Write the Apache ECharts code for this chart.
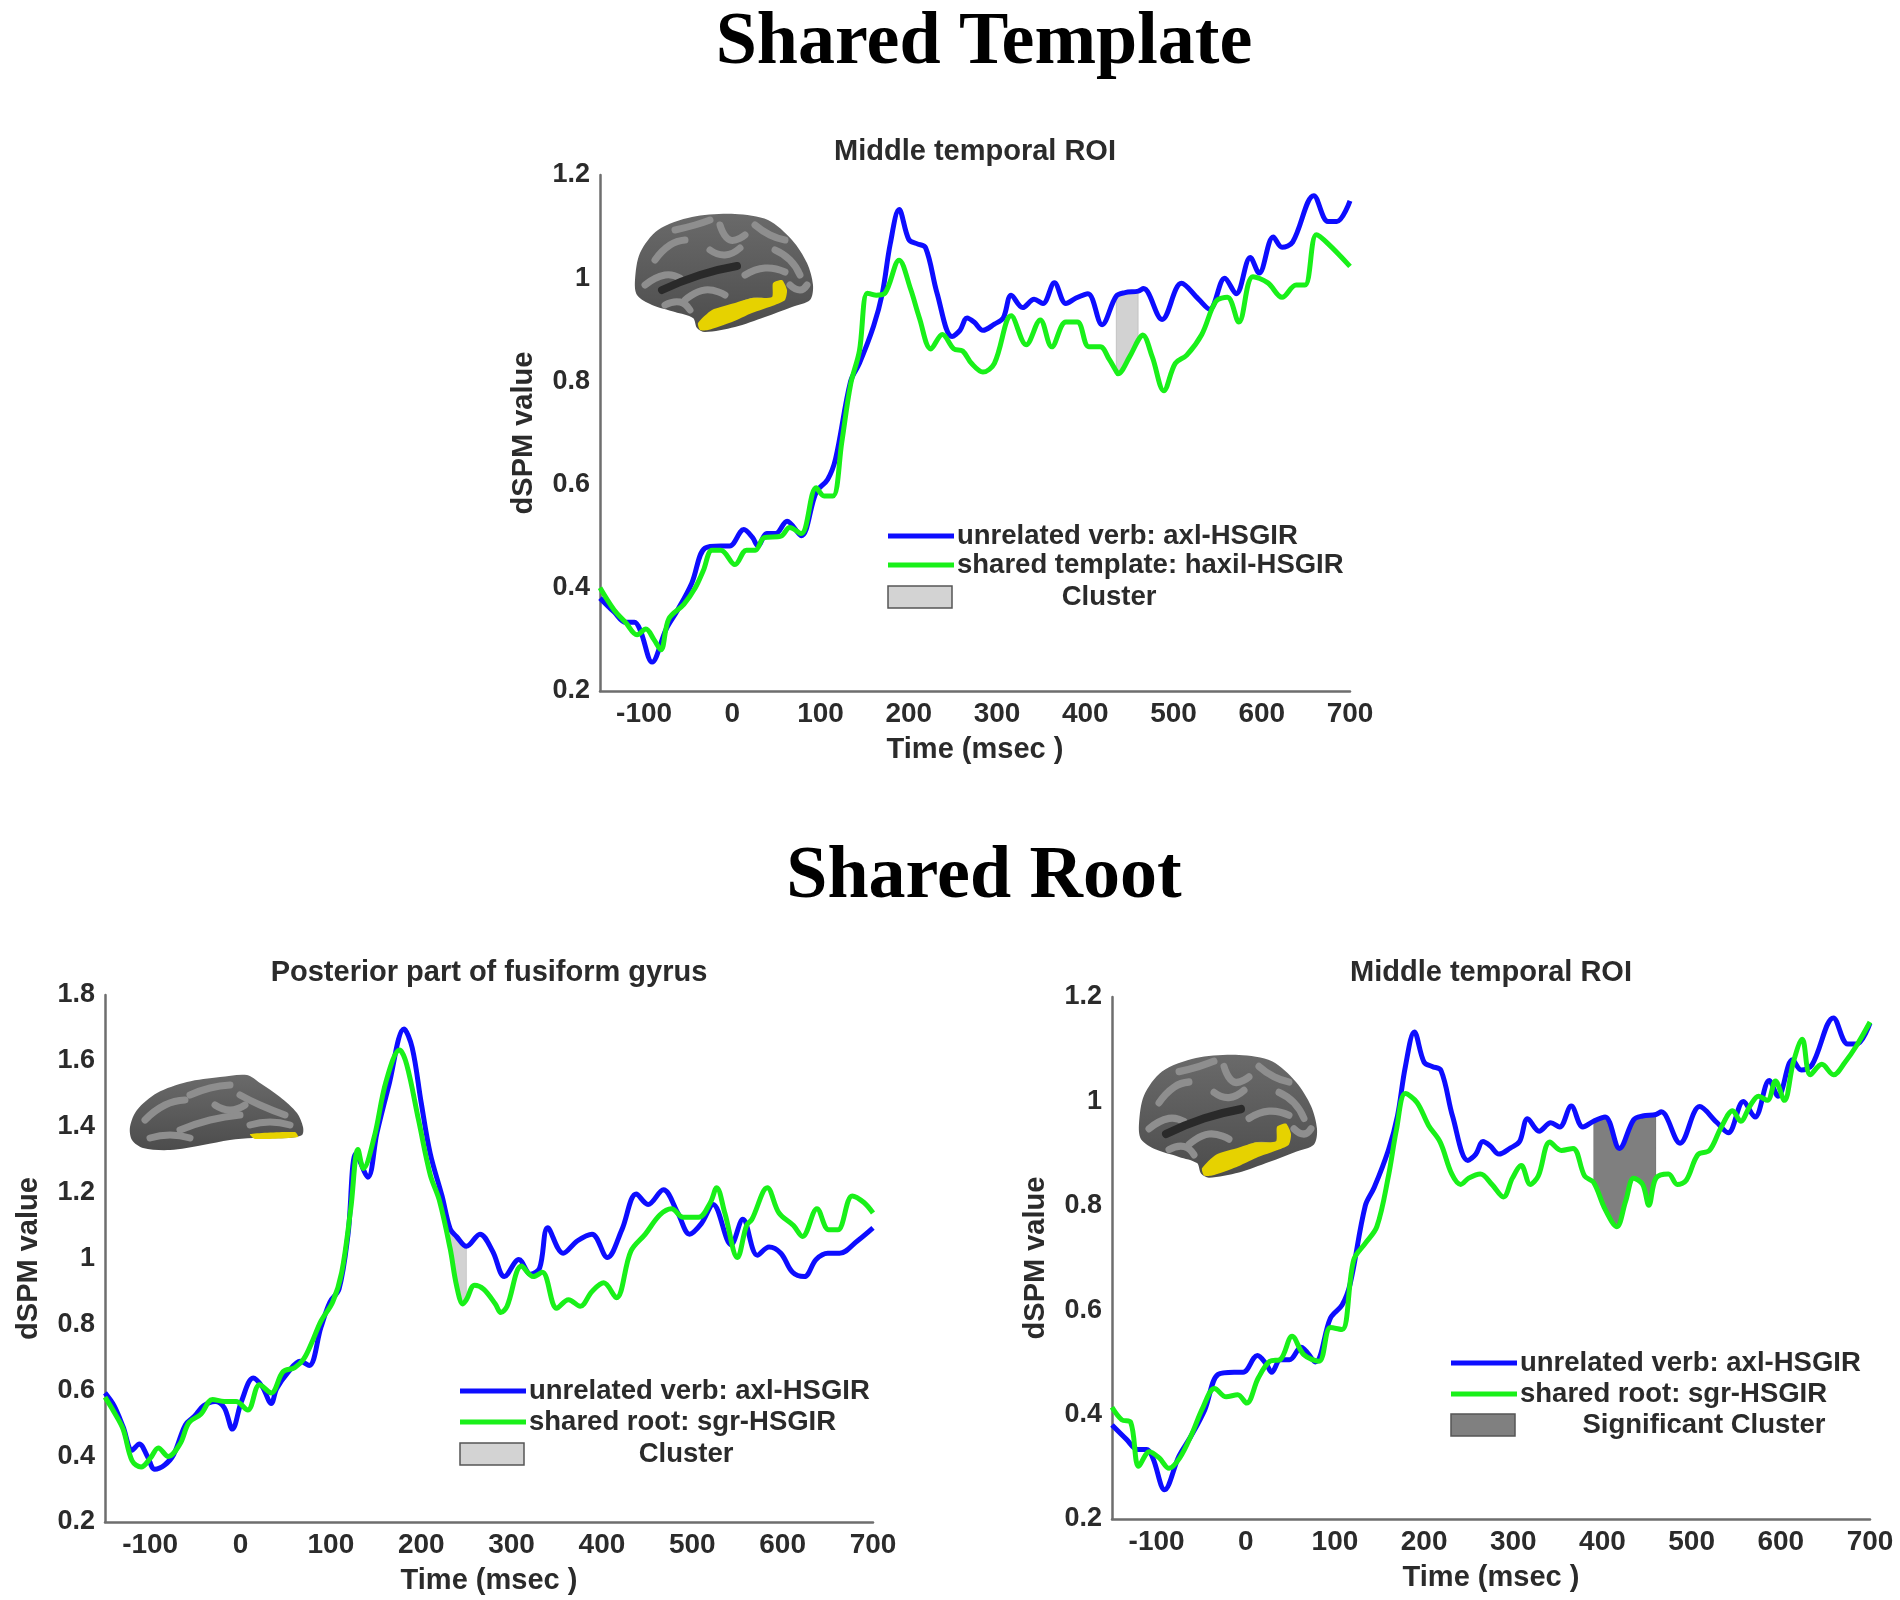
<!DOCTYPE html>
<html>
<head>
<meta charset="utf-8">
<script src="https://cdn.jsdelivr.net/npm/echarts@6/dist/echarts.min.js"></script>
<style>
html, body { margin: 0; padding: 0; background: #fff; }
#main { width: 1900px; height: 1600px; }
</style>
</head>
<body>
<div id="main"></div>
<script>
// tick labels
var xTicks = [-100, 0, 100, 200, 300, 400, 500, 600, 700];
var yTicksMid = [0.2, 0.4, 0.6, 0.8, 1, 1.2];
var yTicksFus = [0.2, 0.4, 0.6, 0.8, 1, 1.2, 1.4, 1.6, 1.8];

// [time (ms), dSPM value]
// unrelated verb in middle temporal ROI (same curve in both middle temporal panels)
var blueMid = [[-150,0.38],[-134,0.353],[-121,0.333],[-111,0.333],[-104,0.316],[-91,0.256],[-75,0.32],[-62,0.357],
  [-46,0.409],[-31,0.477],[-13,0.481],[-3,0.481],[13,0.513],[23,0.497],[29,0.481],[39,0.505],[49,0.505],[62,0.529],
  [78,0.501],[95,0.585],[108,0.61],[117,0.65],[134,0.80],[144,0.835],[160,0.907],[170,0.971],[179,1.067],[189,1.133],
  [200,1.075],[209,1.067],[219,1.059],[232,0.971],[249,0.887],[258,0.899],[266,0.923],[274,0.915],[284,0.899],
  [297,0.911],[307,0.923],[316,0.967],[329,0.943],[342,0.959],[352,0.951],[365,0.991],[378,0.951],[390,0.962],
  [403,0.97],[419,0.91],[435,0.965],[445,0.972],[460,0.975],[466,0.98],[487,0.92],[509,0.99],[528,0.96],[541,0.94],
  [558,1.00],[571,0.97],[587,1.04],[597,1.01],[613,1.08],[623,1.06],[635,1.07],[659,1.16],[675,1.11],[685,1.11],[700,1.15]];
// shared template: haxil-HSGIR
var greenTemplate = [[-150,0.40],[-134,0.357],[-121,0.333],[-108,0.309],[-98,0.32],[-89,0.30],[-81,0.28],[-72,0.34],
  [-55,0.368],[-42,0.40],[-33,0.433],[-23,0.473],[-13,0.473],[3,0.445],[16,0.473],[26,0.473],[36,0.497],[55,0.50],
  [65,0.517],[78,0.505],[95,0.594],[104,0.578],[114,0.578],[124,0.682],[134,0.794],[144,0.859],[153,0.971],[163,0.967],
  [173,0.971],[189,1.035],[202,0.979],[212,0.923],[225,0.863],[238,0.891],[251,0.863],[261,0.859],[271,0.835],
  [284,0.818],[297,0.835],[316,0.927],[333,0.871],[349,0.919],[362,0.867],[378,0.915],[391,0.915],[404,0.867],
  [417,0.867],[427,0.843],[435,0.82],[437,0.815],[450,0.847],[460,0.88],[465,0.89],[476,0.847],[489,0.782],
  [502,0.835],[515,0.851],[532,0.891],[548,0.955],[561,0.963],[574,0.915],[590,1.003],[607,0.991],[623,0.963],
  [639,0.987],[649,0.987],[662,1.084],[675,1.067],[700,1.023]];
// unrelated verb in posterior fusiform gyrus
var blueFus = [[-150,0.592],[-140,0.553],[-130,0.489],[-120,0.418],[-112,0.437],[-103,0.399],[-95,0.36],[-84,0.373],
  [-74,0.405],[-61,0.495],[-51,0.521],[-41,0.553],[-28,0.566],[-18,0.547],[-9,0.482],[1,0.566],[14,0.637],[24,0.611],
  [34,0.56],[40,0.605],[53,0.656],[66,0.688],[76,0.675],[89,0.791],[99,0.868],[109,0.907],[119,1.074],[128,1.318],
  [141,1.247],[151,1.382],[164,1.524],[181,1.697],[190,1.64],[200,1.472],[210,1.318],[223,1.19],[232,1.09],
  [239,1.067],[250,1.037],[265,1.074],[279,1.022],[292,0.945],[308,0.997],[321,0.952],[331,0.971],[340,1.093],
  [357,1.016],[373,1.054],[389,1.074],[406,1.003],[422,1.087],[438,1.196],[451,1.164],[468,1.209],[484,1.138],
  [497,1.074],[510,1.106],[523,1.164],[543,1.042],[556,1.119],[572,1.01],[585,1.035],[598,1.016],[611,0.958],
  [624,0.945],[637,0.997],[650,1.016],[663,1.016],[683,1.054],[700,1.093]];
// shared root in posterior fusiform gyrus
var greenRootFus = [[-150,0.579],[-140,0.534],[-130,0.482],[-120,0.386],[-110,0.367],[-100,0.393],[-91,0.425],
  [-80,0.399],[-67,0.437],[-57,0.502],[-44,0.527],[-31,0.572],[-18,0.566],[-5,0.566],[8,0.54],[21,0.617],[34,0.592],
  [47,0.656],[60,0.669],[70,0.695],[80,0.752],[89,0.81],[102,0.868],[112,0.958],[122,1.151],[130,1.331],[136,1.273],
  [148,1.369],[161,1.537],[176,1.633],[184,1.588],[197,1.421],[210,1.254],[220,1.177],[232,1.03],[239,0.919],
  [246,0.862],[250,0.875],[259,0.919],[269,0.907],[282,0.862],[288,0.836],[295,0.855],[311,0.977],[324,0.945],
  [334,0.958],[350,0.849],[363,0.875],[376,0.855],[389,0.90],[402,0.926],[416,0.881],[432,1.022],[448,1.074],
  [464,1.132],[477,1.151],[490,1.125],[507,1.125],[520,1.17],[527,1.215],[536,1.138],[550,1.003],[560,1.10],
  [566,1.119],[583,1.215],[596,1.138],[612,1.10],[622,1.067],[638,1.151],[651,1.087],[661,1.087],[677,1.19],
  [690,1.17],[700,1.138]];
// shared root in middle temporal ROI
var greenRootMid = [[-150,0.414],[-139,0.39],[-129,0.385],[-120,0.301],[-108,0.329],[-97,0.317],[-86,0.297],
  [-74,0.317],[-61,0.361],[-48,0.414],[-35,0.45],[-22,0.434],[-9,0.438],[1,0.422],[14,0.47],[27,0.502],[39,0.506],
  [52,0.55],[65,0.515],[82,0.502],[95,0.567],[108,0.563],[121,0.696],[134,0.728],[147,0.76],[160,0.857],[169,0.946],
  [179,1.015],[192,0.998],[205,0.954],[218,0.922],[231,0.861],[241,0.841],[250,0.853],[263,0.861],[276,0.841],
  [289,0.817],[299,0.853],[309,0.877],[319,0.841],[328,0.857],[341,0.922],[354,0.906],[367,0.91],[380,0.857],
  [390,0.845],[403,0.793],[416,0.76],[426,0.809],[435,0.853],[445,0.841],[452,0.801],[460,0.853],[474,0.861],
  [484,0.841],[494,0.849],[507,0.898],[520,0.906],[533,0.95],[546,0.982],[555,0.962],[565,0.99],[575,1.01],
  [585,1.002],[594,1.039],[604,1.002],[614,1.075],[624,1.119],[633,1.051],[646,1.071],[659,1.051],[672,1.075],
  [685,1.107],[700,1.152]];

// cluster time windows (ms)
var clusterTemplate = [435, 460];
var clusterFus = [232, 250];
var clusterRootMid = [390, 460];

var BLUE = '#0d0dff';
var GREEN = '#19f019';
var TXT = '#2b2b2b';
var SANS = 'Liberation Sans';

function xAxisFor(i) {
    return {
        type: 'value', gridIndex: i, min: -150, max: 700,
        axisLine: { show: true, onZero: false, lineStyle: { color: '#6e6e6e', width: 2.5 } },
        axisTick: { show: false },
        splitLine: { show: false },
        axisLabel: { customValues: xTicks, margin: 9, fontSize: 28, fontWeight: 'bold', color: TXT, fontFamily: SANS },
        name: 'Time (msec )', nameLocation: 'middle', nameGap: 44,
        nameTextStyle: { fontSize: 29, fontWeight: 'bold', color: TXT, fontFamily: SANS }
    };
}
function yAxisFor(i, max, ticks) {
    return {
        type: 'value', gridIndex: i, min: 0.2, max: max,
        axisLine: { show: true, onZero: false, lineStyle: { color: '#6e6e6e', width: 2.5 } },
        axisTick: { show: false },
        splitLine: { show: false },
        axisLabel: {
            customValues: ticks, margin: 10, fontSize: 27, fontWeight: 'bold', color: TXT, fontFamily: SANS,
            formatter: function (v) { return String(Math.round(v * 10) / 10); }
        },
        name: 'dSPM value', nameLocation: 'middle', nameGap: 62,
        nameTextStyle: { fontSize: 29, fontWeight: 'bold', color: TXT, fontFamily: SANS }
    };
}
function lineSeries(i, data, color) {
    return {
        type: 'line', xAxisIndex: i, yAxisIndex: i, data: data,
        showSymbol: false, smooth: 0.35, z: 3,
        lineStyle: { color: color, width: 5 }
    };
}
// fill between the two curves inside the cluster window
function clusterSeries(i, upper, lower, range, fill) {
    return {
        type: 'custom', xAxisIndex: i, yAxisIndex: i, z: 1, silent: true,
        data: [[range[0], upper[0][1]]],
        renderItem: function (params, api) {
            var pts = [];
            upper.forEach(function (p) { if (p[0] >= range[0] && p[0] <= range[1]) pts.push(api.coord(p)); });
            lower.slice().reverse().forEach(function (p) { if (p[0] >= range[0] && p[0] <= range[1]) pts.push(api.coord(p)); });
            return { type: 'polygon', shape: { points: pts }, style: { fill: fill, stroke: 'rgba(0,0,0,0.12)', lineWidth: 1 } };
        }
    };
}

function txt(x, y, s, size, opts) {
    opts = opts || {};
    return {
        type: 'text', x: x, y: y, z: 10,
        style: {
            text: s, fontSize: size, fontWeight: 'bold', fontFamily: opts.font || SANS,
            fill: opts.color || TXT, align: opts.align || 'center', verticalAlign: 'middle'
        }
    };
}
function legendBlock(x0, yB, yG, yBox, labelB, labelG, clusterLabel, clusterX, boxFill) {
    return [
        { type: 'line', z: 10, shape: { x1: x0, y1: yB, x2: x0 + 66, y2: yB }, style: { stroke: BLUE, lineWidth: 5 } },
        { type: 'line', z: 10, shape: { x1: x0, y1: yG, x2: x0 + 66, y2: yG }, style: { stroke: GREEN, lineWidth: 5 } },
        { type: 'rect', z: 10, shape: { x: x0, y: yBox - 11, width: 64, height: 22 }, style: { fill: boxFill, stroke: '#555', lineWidth: 1.5 } },
        txt(x0 + 69, yB, labelB, 27.5, { align: 'left' }),
        txt(x0 + 69, yG, labelG, 27.5, { align: 'left' }),
        txt(clusterX, yBox, clusterLabel, 27.5)
    ];
}

// rough inflated-brain pictograms (local coordinates, placed with a group)
var lateralOutline = [[10,90],[15,63],[33,40],[67,27],[110,24],[143,30],[167,50],[182,73],[188,95],[185,110],[167,117],
    [140,127],[110,137],[80,142],[72,138],[68,128],[50,122],[27,115],[12,105]];
var lateralYellow = [[73,133],[87,120],[110,113],[127,108],[147,107],[148,93],[157,90],[162,100],[160,110],[150,115],
    [127,123],[107,132],[83,140],[75,140]];
var lateralGyri = [[[30,70],[45,55],[60,50]], [[50,40],[70,35],[85,30]], [[95,35],[105,50],[120,45]],
    [[130,35],[145,45],[160,50]], [[20,95],[40,85],[55,88]], [[60,110],[80,100],[100,105]],
    [[120,85],[140,78],[160,82]], [[150,60],[165,70],[175,85]], [[85,60],[100,65],[115,58]],
    [[40,115],[55,112],[65,120]], [[110,120],[125,112],[140,112]], [[165,95],[175,100],[182,95]]];
var lateralSulcus = [[37,100],[75,85],[112,76]];
var ventralOutline = [[10,67],[17,50],[37,33],[67,22],[100,17],[127,15],[140,23],[160,37],[177,53],[183,67],[182,75],
    [167,78],[133,78],[110,80],[83,85],[50,90],[23,88],[12,80]];
var ventralYellow = [[130,74],[175,72],[178,77],[135,79]];
var ventralGyri = [[[25,60],[45,45],[65,40]], [[70,35],[90,28],[110,25]], [[60,70],[90,60],[120,55]],
    [[120,35],[140,45],[165,55]], [[30,78],[50,75],[70,78]], [[130,65],[150,62],[170,65]], [[95,45],[110,50],[125,45]]];

function brain(x, y, sx, sy, outline, yellow, gyri, sulcus) {
    var children = [
        { type: 'polygon', shape: { points: outline, smooth: 0.3 }, style: {
            fill: new echarts.graphic.LinearGradient(0, 0, 0, 1, [{ offset: 0, color: '#6a6a6a' }, { offset: 1, color: '#4c4c4c' }]) } }
    ];
    gyri.forEach(function (pts) {
        children.push({ type: 'polyline', shape: { points: pts, smooth: 0.5 }, style: { stroke: '#8e8e8e', lineWidth: 7, lineCap: 'round' } });
    });
    if (sulcus) {
        children.push({ type: 'polyline', shape: { points: sulcus, smooth: 0.5 }, style: { stroke: '#2a2a2a', lineWidth: 8, lineCap: 'round' } });
    }
    children.push({ type: 'polygon', shape: { points: yellow, smooth: 0.2 }, style: { fill: '#e6d200' } });
    return { type: 'group', x: x, y: y, scaleX: sx, scaleY: sy, z: 5, children: children };
}

var graphics = [
    txt(984, 44, 'Shared Template', 74, { font: 'Liberation Serif', color: '#000' }),
    txt(984, 878, 'Shared Root', 74, { font: 'Liberation Serif', color: '#000' }),
    txt(975, 152, 'Middle temporal ROI', 29),
    txt(489, 973, 'Posterior part of fusiform gyrus', 29),
    txt(1491, 973, 'Middle temporal ROI', 29),
    brain(625, 190, 1.0, 1.0, lateralOutline, lateralYellow, lateralGyri, lateralSulcus),
    brain(120, 1060, 1.0, 1.0, ventralOutline, ventralYellow, ventralGyri, null),
    brain(1129, 1030, 1.0, 1.04, lateralOutline, lateralYellow, lateralGyri, lateralSulcus)
].concat(
    legendBlock(888, 536, 565, 597, 'unrelated verb: axl-HSGIR', 'shared template: haxil-HSGIR', 'Cluster', 1109, '#d3d3d3'),
    legendBlock(460, 1391, 1422, 1454, 'unrelated verb: axl-HSGIR', 'shared root: sgr-HSGIR', 'Cluster', 686, '#d3d3d3'),
    legendBlock(1451, 1363, 1394, 1425, 'unrelated verb: axl-HSGIR', 'shared root: sgr-HSGIR', 'Significant Cluster', 1704, '#808080')
);

var option = {
    backgroundColor: '#fff',
    animation: false,
    grid: [
        { left: 600, top: 175, width: 750, height: 516 },
        { left: 105, top: 995, width: 768, height: 527 },
        { left: 1112, top: 997, width: 758, height: 522 }
    ],
    xAxis: [xAxisFor(0), xAxisFor(1), xAxisFor(2)],
    yAxis: [yAxisFor(0, 1.2, yTicksMid), yAxisFor(1, 1.8, yTicksFus), yAxisFor(2, 1.2, yTicksMid)],
    series: [
        clusterSeries(0, blueMid, greenTemplate, clusterTemplate, '#d2d2d2'),
        lineSeries(0, blueMid, BLUE),
        lineSeries(0, greenTemplate, GREEN),
        clusterSeries(1, blueFus, greenRootFus, clusterFus, '#d2d2d2'),
        lineSeries(1, blueFus, BLUE),
        lineSeries(1, greenRootFus, GREEN),
        clusterSeries(2, blueMid, greenRootMid, clusterRootMid, '#7f7f7f'),
        lineSeries(2, blueMid, BLUE),
        lineSeries(2, greenRootMid, GREEN)
    ],
    graphic: graphics
};

var chart = echarts.init(document.getElementById('main'));
chart.setOption(option);
</script>
</body>
</html>
